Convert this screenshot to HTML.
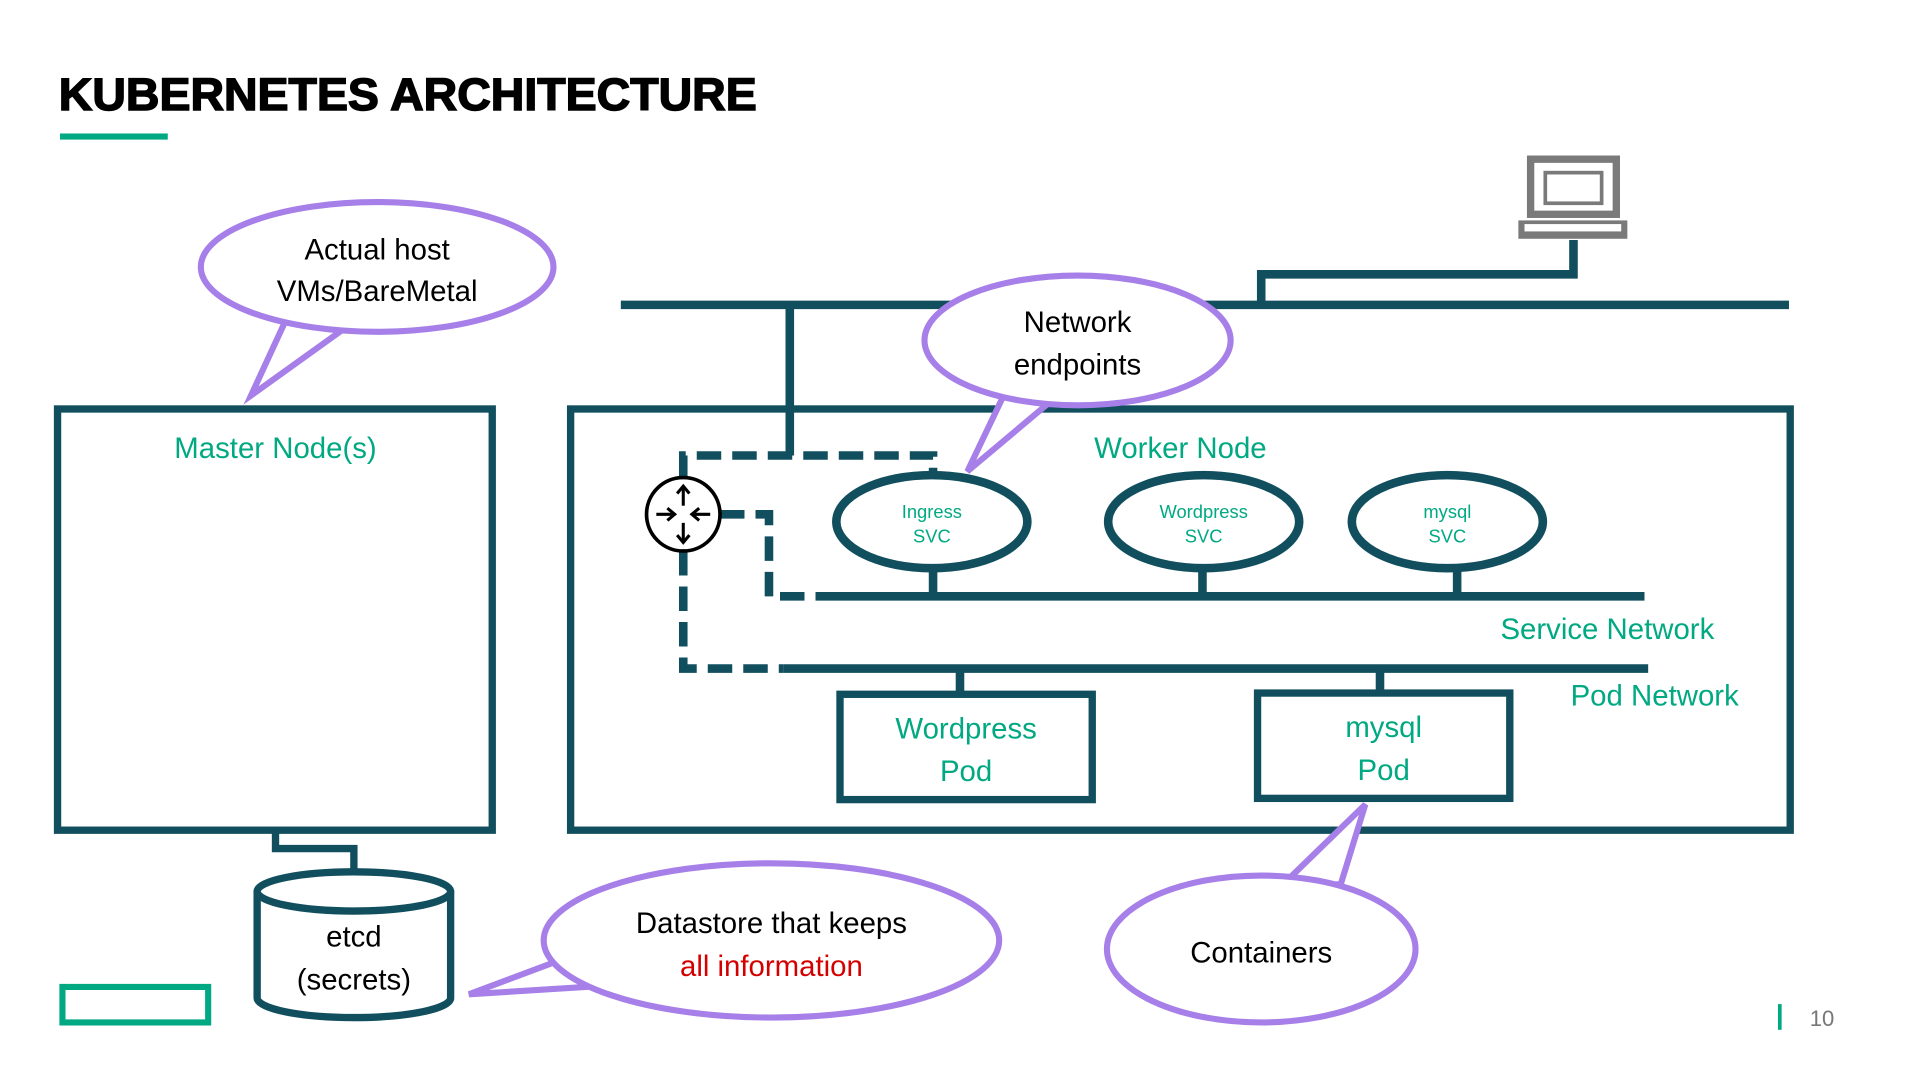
<!DOCTYPE html>
<html><head><meta charset="utf-8"><style>
html,body{margin:0;padding:0;background:#fff;width:1920px;height:1080px;overflow:hidden}
svg{display:block}
text{font-family:"Liberation Sans",sans-serif}
</style></head><body>
<svg width="1920" height="1080" viewBox="0 0 1568 882" preserveAspectRatio="none" xmlns="http://www.w3.org/2000/svg">
<rect width="1568" height="882" fill="#fff"/>
<text x="48" y="90" font-size="37" font-weight="900" fill="#000" textLength="570" lengthAdjust="spacingAndGlyphs" stroke="#000" stroke-width="1.2">KUBERNETES ARCHITECTURE</text>
<rect x="49" y="109" width="88" height="5" fill="#01a982"/>
<!-- laptop -->
<rect x="1250" y="130" width="70" height="45" fill="none" stroke="#7a7a7a" stroke-width="6"/>
<rect x="1262" y="141" width="46" height="25" fill="none" stroke="#7a7a7a" stroke-width="3"/>
<rect x="1240" y="180" width="89" height="15" fill="#7a7a7a"/>
<rect x="1245" y="183" width="79" height="6" fill="#fff"/>
<g stroke="#114f5f" stroke-width="7" fill="none">
<polyline points="1285,196 1285,224 1030,224 1030,249"/>
<line x1="507" y1="249" x2="1461" y2="249"/>
<line x1="645" y1="249" x2="645" y2="372"/>
<rect x="47" y="334" width="355" height="344" stroke-width="6"/>
<rect x="466" y="334" width="996" height="344" stroke-width="6"/>
<line x1="666" y1="487" x2="1343" y2="487"/>
<line x1="640" y1="546" x2="1346" y2="546"/>
<line x1="762" y1="465" x2="762" y2="487"/>
<line x1="982" y1="465" x2="982" y2="487"/>
<line x1="1190" y1="465" x2="1190" y2="487"/>
<line x1="784" y1="546" x2="784" y2="567"/>
<line x1="1127" y1="546" x2="1127" y2="566"/>
<ellipse cx="761" cy="426" rx="78" ry="38" fill="#fff"/>
<ellipse cx="983" cy="426" rx="78" ry="38" fill="#fff"/>
<ellipse cx="1182" cy="426" rx="78" ry="38" fill="#fff"/>
<rect x="686" y="567" width="206" height="86" stroke-width="6"/>
<rect x="1027" y="566" width="206" height="86" stroke-width="6"/>
<polyline points="225,678 225,693 289,693 289,712" stroke-width="6"/>
<g stroke-dasharray="20,9" stroke-width="7">
<polyline points="558,390 558,372 762,372 762,388"/>
<polyline points="588,420 628,420 628,487 666,487"/>
<polyline points="558,450 558,546 640,546"/>
</g>
<path d="M210,728 L210,815 A79,16 0 0 0 368,815 L368,728" fill="#fff" stroke-width="6"/>
<ellipse cx="289" cy="728" rx="79" ry="16" fill="#fff" stroke-width="6"/>
</g>
<!-- router -->
<circle cx="558" cy="420" r="30" fill="#fff" stroke="#000" stroke-width="3"/>
<g stroke="#000" stroke-width="2.5" fill="none">
<line x1="558" y1="413" x2="558" y2="398"/><polyline points="553,403 558,397 563,403"/>
<line x1="558" y1="427" x2="558" y2="442"/><polyline points="553,437 558,443 563,437"/>
<line x1="536" y1="420" x2="550" y2="420"/><polyline points="545,415 551,420 545,425"/>
<line x1="580" y1="420" x2="566" y2="420"/><polyline points="571,415 565,420 571,425"/>
</g>
<g fill="#01a982" text-anchor="middle">
<text x="225" y="374" font-size="24">Master Node(s)</text>
<text x="964" y="374" font-size="24">Worker Node</text>
<text x="761" y="423" font-size="15">Ingress</text><text x="761" y="443" font-size="15">SVC</text>
<text x="983" y="423" font-size="15">Wordpress</text><text x="983" y="443" font-size="15">SVC</text>
<text x="1182" y="423" font-size="15">mysql</text><text x="1182" y="443" font-size="15">SVC</text>
<text x="789" y="603" font-size="24">Wordpress</text><text x="789" y="638" font-size="24">Pod</text>
<text x="1130" y="602" font-size="24">mysql</text><text x="1130" y="637" font-size="24">Pod</text>
<text x="1400" y="522" font-size="24" text-anchor="end">Service Network</text>
<text x="1420" y="576" font-size="24" text-anchor="end">Pod Network</text>
</g>
<text x="289" y="773" font-size="24" text-anchor="middle">etcd</text>
<text x="289" y="808" font-size="24" text-anchor="middle">(secrets)</text>
<!-- callouts -->
<g stroke="#a77fe8" stroke-width="5" fill="#fff">
<polygon points="235,258 205,323 290,262"/>
<ellipse cx="308" cy="218" rx="144" ry="53"/>
<polygon points="822,318 790,385 865,322"/>
<ellipse cx="880" cy="278" rx="125" ry="53"/>
<polygon points="455,785 383,812 495,805"/>
<ellipse cx="630" cy="768" rx="186" ry="63"/>
<polygon points="1045,725 1115,657 1095,722"/>
<ellipse cx="1030" cy="775" rx="126" ry="60"/>
</g>
<g font-size="24" text-anchor="middle" fill="#000">
<text x="308" y="212">Actual host</text><text x="308" y="246">VMs/BareMetal</text>
<text x="880" y="271">Network</text><text x="880" y="306">endpoints</text>
<text x="630" y="762">Datastore that keeps</text><text x="630" y="797" fill="#d40000">all information</text>
<text x="1030" y="786">Containers</text>
</g>
<rect x="51" y="806" width="119" height="29" fill="none" stroke="#01a982" stroke-width="5"/>
<rect x="1452" y="820" width="3" height="21" fill="#01a982"/>
<text x="1478" y="838" font-size="18" fill="#777">10</text>
</svg>
</body></html>
